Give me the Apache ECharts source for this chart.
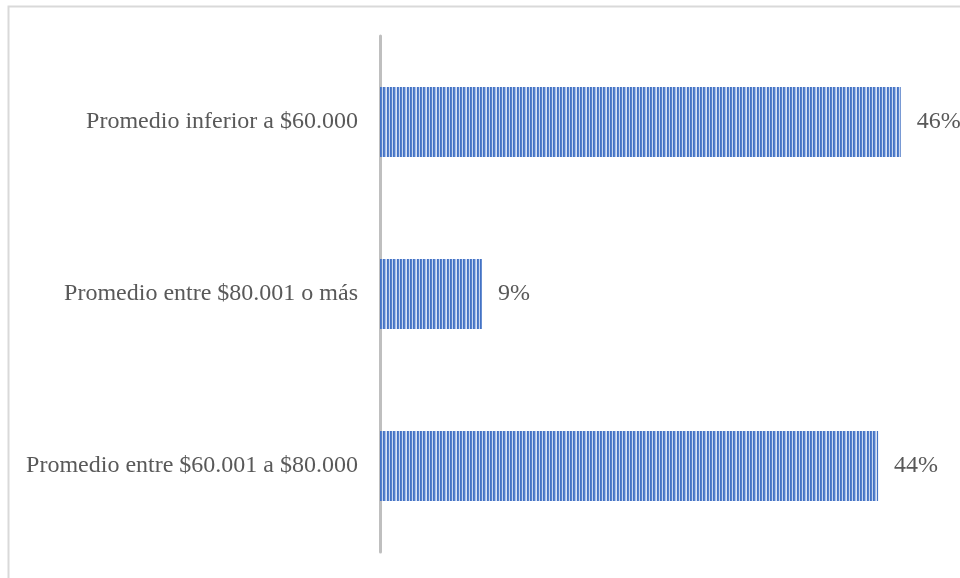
<!DOCTYPE html>
<html>
<head>
<meta charset="utf-8">
<script src="https://cdn.jsdelivr.net/npm/echarts@6/dist/echarts.min.js"></script>
<style>
  html, body { margin: 0; padding: 0; background: #ffffff; }
  #chart { width: 960px; height: 578px; }
</style>
</head>
<body>
<div id="chart"></div>
<script>
// Income brackets (top to bottom) and their share of respondents, in percent
const categories = [
  'Promedio inferior a $60.000',
  'Promedio entre $80.001 o más',
  'Promedio entre $60.001 a $80.000'
];
const shares = [46, 9, 44];

// Vertical pinstripe fill for the bars
function stripePattern() {
  const c = document.createElement('canvas');
  c.width = 10; c.height = 4;
  const ctx = c.getContext('2d');
  const cols = ['#4472c4', '#5480cb', '#c8d7f1',
                '#4472c4', '#5480cb', '#a9c0e8', '#dae4f6',
                '#4472c4', '#5480cb', '#c8d7f1'];
  cols.forEach((col, i) => { ctx.fillStyle = col; ctx.fillRect(i, 0, 1, 4); });
  return c;
}

const chart = echarts.init(document.getElementById('chart'), null, { renderer: 'canvas' });
const textStyle = { fontFamily: 'Liberation Serif', fontSize: 24, color: '#595959' };

chart.setOption({
  animation: false,
  backgroundColor: '#ffffff',
  graphic: [{
    type: 'rect',
    shape: { x: 8.5, y: 6.5, width: 1000, height: 1000 },
    style: { fill: 'none', stroke: '#d9d9d9', lineWidth: 2 },
    silent: true
  }],
  grid: { left: 380, right: 14, top: 36, bottom: 26, containLabel: false },
  xAxis: {
    type: 'value', min: 0, max: 50,
    show: false
  },
  yAxis: {
    type: 'category',
    data: categories,
    inverse: true,
    axisLine: { show: true, lineStyle: { color: '#bfbfbf', width: 3 } },
    axisTick: { show: false },
    axisLabel: { ...textStyle, margin: 22 }
  },
  series: [{
    type: 'bar',
    data: shares,
    barWidth: 70,
    itemStyle: {
      color: { image: stripePattern(), repeat: 'repeat' }
    },
    label: {
      show: true,
      position: 'right',
      distance: 16,
      formatter: '{c}%',
      ...textStyle
    }
  }]
});
</script>
</body>
</html>
